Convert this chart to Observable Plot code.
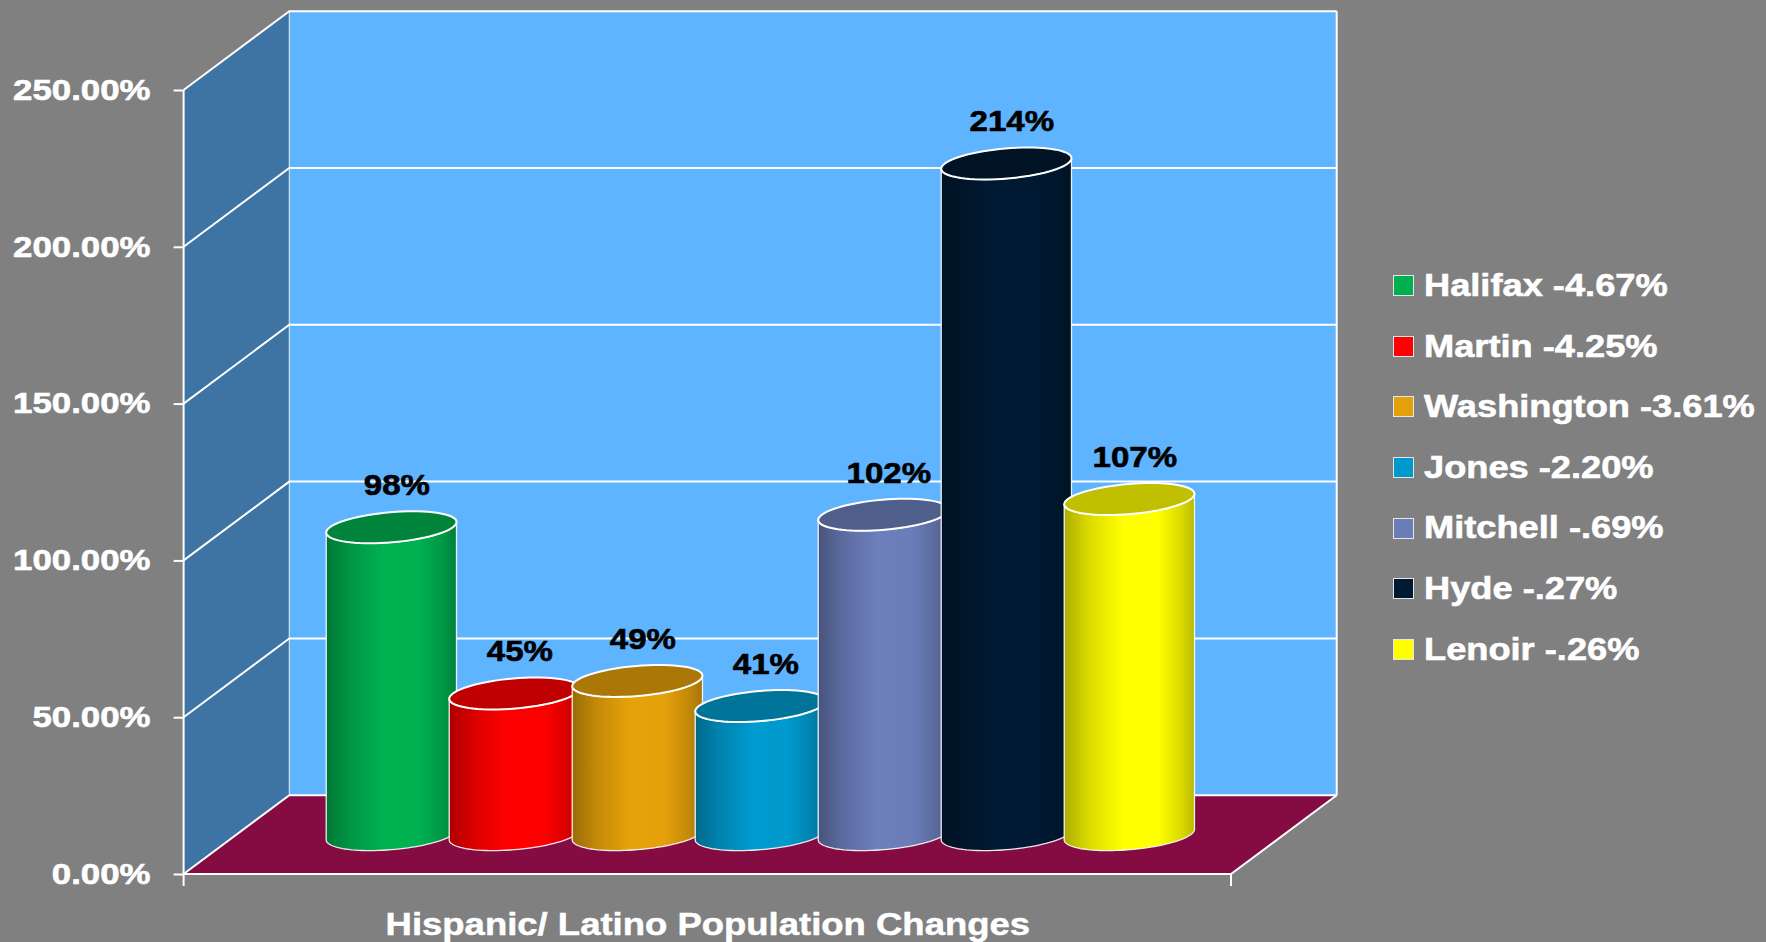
<!DOCTYPE html>
<html><head><meta charset="utf-8">
<script src="https://cdn.jsdelivr.net/npm/d3@7"></script>
<script src="https://cdn.jsdelivr.net/npm/@observablehq/plot@0.6"></script>
<style>
html,body{margin:0;padding:0;background:#808080;overflow:hidden;}
#wrap{position:relative;width:1766px;height:942px;}
#legend{position:absolute;left:1393px;top:0;font-family:'Liberation Sans',Arial,sans-serif;font-weight:bold;color:#fff;}
.row{position:absolute;left:0;height:60px;display:flex;align-items:center;white-space:nowrap;}
.sw{width:19px;height:19px;border:1px solid #e6e6e6;flex:none;}
.lab{margin-left:10px;font-size:31.5px;line-height:1;transform:scaleX(1.15);transform-origin:left center;-webkit-text-stroke:0.6px #fff;}
</style></head><body><div id="wrap"><div id="legend"></div></div>
<script>
// ---- data ----
const counties = ["Halifax", "Martin", "Washington", "Jones", "Mitchell", "Hyde", "Lenoir"];
const hispanicChange = [98, 45, 49, 41, 102, 214, 107];            // % change, Hispanic/Latino population
const totalChange = ["-4.67%", "-4.25%", "-3.61%", "-2.20%", "-.69%", "-.27%", "-.26%"];
const colors = ["#00B050", "#FF0000", "#E3A00A", "#0099CC", "#6B7DB9", "#001A33", "#FFFF00"];
const yTicks = [0, 50, 100, 150, 200, 250];
const title = "Hispanic/ Latino Population Changes";

// ---- styling constants ----
const DX = 105.7, DY = -78.8;        // 3D depth offset
const K = 0.203;                     // cylinder depth radius as fraction of depth
const STRETCH = 1.14, AXIS_STRETCH = 1.2;
const sideColor = "#3E74A3", backColor = "#5FB4FF", floorColor = "#850C43";

const rows = counties.map((c, i) => ({county: c, value: hispanicChange[i], color: colors[i]}));

function walls(index, scales, values, dims) {
  const Y = scales.y;
  const x0 = dims.marginLeft, x1 = dims.width - dims.marginRight;
  const yT = Y(d3.max(yTicks)), y0 = Y(0);
  const g = d3.create("svg:g");
  g.append("path").attr("d", `M${x0},${yT}L${x0+DX},${yT+DY}L${x0+DX},${y0+DY}L${x0},${y0}Z`).attr("fill", sideColor);
  g.append("rect").attr("x", x0+DX).attr("y", yT+DY).attr("width", x1-x0).attr("height", y0-yT).attr("fill", backColor);
  g.append("path").attr("d", `M${x0},${y0}L${x1},${y0}L${x1+DX},${y0+DY}L${x0+DX},${y0+DY}Z`).attr("fill", floorColor);
  const ln = g.append("g").attr("stroke", "white").attr("stroke-width", 2).attr("fill", "none");
  for (const t of yTicks) {
    const yy = Y(t);
    ln.append("path").attr("d", `M${x0},${yy}L${x0+DX},${yy+DY}L${x1+DX},${yy+DY}`);
  }
  ln.append("path").attr("d", `M${x1+DX},${yT+DY}L${x1+DX},${y0+DY}`);
  ln.append("path").attr("d", `M${x0+DX},${yT+DY}L${x0+DX},${y0+DY}`).attr("stroke-width", 1.2).attr("stroke-opacity", 0.7);
  ln.append("path").attr("d", `M${x1},${y0}L${x1+DX},${y0+DY}`);
  ln.append("path").attr("d", `M${x0},${yT}L${x0},${y0+12}`);
  ln.append("path").attr("d", `M${x0},${y0}L${x1},${y0}L${x1},${y0+12}`);
  return g.node();
}

function cylinders(index, scales, values, dims) {
  const X = scales.x, Y = scales.y;
  const bw = typeof X.bandwidth === "function" ? X.bandwidth() : (X.bandwidth ?? 0);
  const step = X(counties[1]) - X(counties[0]);
  const R = 0.5 * step, vx = K * DX, vy = K * DY;
  const phi0 = Math.atan2(vx, R);
  const E = (cx, cy, p) => [cx + R*Math.cos(p) + vx*Math.sin(p), cy + vy*Math.sin(p)];
  const arc = (cx, cy, a, b, n = 48) => d3.range(n + 1).map(k => E(cx, cy, a + (b - a) * k / n));
  const g = d3.create("svg:g");
  const defs = g.append("defs");
  rows.forEach((d, i) => {
    const base = d3.color(d.color);
    const id = "cylgrad" + i;
    const gr = defs.append("linearGradient").attr("id", id).attr("x1", 0).attr("x2", 1).attr("y1", 0).attr("y2", 0);
    [[0, base.darker(1.1)], [0.18, base.darker(0.45)], [0.45, base.brighter(0.05)], [0.72, base], [0.9, base.darker(0.45)], [1, base.darker(0.9)]]
      .forEach(([o, c]) => gr.append("stop").attr("offset", o).attr("stop-color", c.formatHex()));
    const cx = X(d.county) + bw / 2 + DX / 2;
    const yb = Y(0) + DY / 2, yt = Y(d.value) + DY / 2;
    const pts = [E(cx, yt, phi0), ...arc(cx, yb, phi0, phi0 - Math.PI), ...arc(cx, yt, phi0 - Math.PI, phi0)];
    g.append("path").attr("d", "M" + pts.map(p => p.join(",")).join("L") + "Z")
      .attr("fill", `url(#${id})`).attr("stroke", "white").attr("stroke-width", 1.3).attr("stroke-opacity", 0.9);
    const cap = arc(cx, yt, 0, 2 * Math.PI, 72);
    g.append("path").attr("d", "M" + cap.map(p => p.join(",")).join("L") + "Z")
      .attr("fill", base.darker(0.8).formatHex()).attr("stroke", "white").attr("stroke-width", 2);
  });
  return g.node();
}

const chart = Plot.plot({
  width: 1766, height: 942,
  marginLeft: 183.6, marginRight: 535, marginTop: 90, marginBottom: 68,
  style: {background: "#808080", color: "white", fontFamily: "'Liberation Sans', Arial, sans-serif", fontWeight: "bold", overflow: "visible"},
  x: {type: "band", domain: counties, paddingInner: 0, paddingOuter: 0.75, axis: null},
  y: {domain: [0, 250]},
  marks: [
    walls,
    Plot.axisY({ticks: yTicks, tickFormat: d => d.toFixed(2) + "%", tickSize: 10, tickPadding: 23.6, strokeWidth: 2, color: "white", fontSize: 29, fontWeight: "bold", label: null}),
    cylinders,
    Plot.text(rows, {x: "county", y: "value", text: d => d.value + "%", dx: DX / 2 + 5, dy: DY / 2 - 42, fontSize: 29, fontWeight: "bold", fill: "black", stroke: "black", strokeWidth: 0.6}),
    Plot.text([title], {frameAnchor: "bottom", lineAnchor: "middle", dy: 50, text: d => d, fontSize: 32, fontWeight: "bold", fill: "white", stroke: "white", strokeWidth: 0.5})
  ]
});
document.getElementById("wrap").prepend(chart);

// horizontal stretch of chart texts (the original slide is stretched horizontally)
d3.select(chart).selectAll("text").each(function () {
  const len = this.getComputedTextLength();
  const isAxis = /\.00%$/.test(this.textContent);
  if (isAxis) { this.setAttribute("stroke", "white"); this.setAttribute("stroke-width", 0.6); }
  if (len > 0) { this.setAttribute("textLength", len * (isAxis ? AXIS_STRETCH : STRETCH)); this.setAttribute("lengthAdjust", "spacingAndGlyphs"); }
});

// legend
const legend = d3.select("#legend");
rows.forEach((d, i) => {
  const r = legend.append("div").attr("class", "row").style("top", (285.7 + i * 60.6 - 30) + "px");
  r.append("div").attr("class", "sw").style("background", d.color);
  r.append("div").attr("class", "lab").text(`${d.county} ${totalChange[i]}`);
});
</script></body></html>
